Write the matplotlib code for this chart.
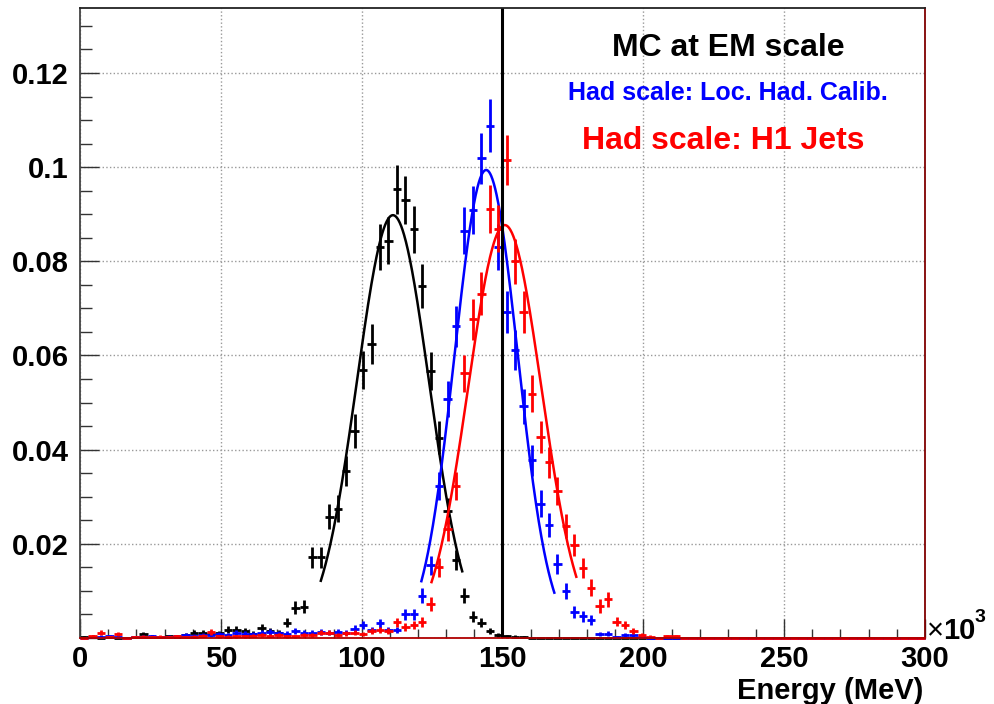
import numpy as np
import matplotlib
matplotlib.use("Agg")
import matplotlib.pyplot as plt
from matplotlib.ticker import MultipleLocator, FuncFormatter

# histogram: 100 bins of 3 (x10^3 MeV) from 0 to 300
bin_width = 3.0
n_bins = 100

# normalised contents for the first 72 bins, the remaining bins are empty
em_scale = [
    0.0002, 0.0003, 0.0000, 0.0002, 0.0000, 0.0000, 0.0002, 0.0008, 0.0003, 0.0002,
    0.0004, 0.0003, 0.0006, 0.0011, 0.0011, 0.0008, 0.0010, 0.0018, 0.0018, 0.0015,
    0.0009, 0.0022, 0.0015, 0.0011, 0.0032, 0.0064, 0.0066, 0.0171, 0.0171, 0.0258,
    0.0275, 0.0355, 0.0440, 0.0569, 0.0624, 0.0831, 0.0844, 0.0953, 0.0930, 0.0868,
    0.0748, 0.0567, 0.0425, 0.0269, 0.0166, 0.0090, 0.0045, 0.0032, 0.0015, 0.0007,
    0.0004, 0.0003, 0.0002, 0.0000, 0.0000, 0.0000, 0.0000, 0.0000, 0.0000, 0.0000,
    0.0000, 0.0000, 0.0000, 0.0000, 0.0000, 0.0000, 0.0000, 0.0000, 0.0000, 0.0000,
    0.0000, 0.0000,
]
loc_had = [
    0.0001, 0.0002, 0.0003, 0.0004, 0.0003, 0.0001, 0.0002, 0.0003, 0.0004, 0.0002,
    0.0003, 0.0004, 0.0007, 0.0005, 0.0007, 0.0006, 0.0008, 0.0006, 0.0011, 0.0009,
    0.0008, 0.0011, 0.0013, 0.0010, 0.0009, 0.0015, 0.0011, 0.0011, 0.0013, 0.0011,
    0.0013, 0.0011, 0.0020, 0.0028, 0.0017, 0.0031, 0.0017, 0.0017, 0.0050, 0.0050,
    0.0090, 0.0154, 0.0323, 0.0508, 0.0662, 0.0865, 0.0908, 0.1019, 0.1088, 0.0831,
    0.0692, 0.0612, 0.0492, 0.0377, 0.0285, 0.0240, 0.0158, 0.0099, 0.0055, 0.0046,
    0.0039, 0.0008, 0.0009, 0.0002, 0.0007, 0.0006, 0.0003, 0.0001, 0.0001, 0.0000,
    0.0000, 0.0000,
]
h1_jets = [
    0.0001, 0.0004, 0.0011, 0.0002, 0.0008, 0.0001, 0.0002, 0.0003, 0.0002, 0.0003,
    0.0002, 0.0004, 0.0002, 0.0003, 0.0005, 0.0013, 0.0004, 0.0003, 0.0004, 0.0004,
    0.0005, 0.0006, 0.0005, 0.0006, 0.0004, 0.0004, 0.0007, 0.0006, 0.0011, 0.0011,
    0.0006, 0.0010, 0.0011, 0.0008, 0.0015, 0.0017, 0.0014, 0.0033, 0.0023, 0.0027,
    0.0034, 0.0072, 0.0150, 0.0231, 0.0323, 0.0562, 0.0677, 0.0731, 0.0912, 0.0869,
    0.1015, 0.0800, 0.0692, 0.0519, 0.0427, 0.0373, 0.0312, 0.0238, 0.0197, 0.0149,
    0.0107, 0.0068, 0.0082, 0.0035, 0.0028, 0.0015, 0.0006, 0.0003, 0.0001, 0.0004,
    0.0004, 0.0001,
]
n_events = 3500  # sets the size of the poisson error bars

# gaussian fits: amplitude, mean, sigma, fit range
fit_em = (0.0898, 111.1, 12.8, 85.5, 135.7)
fit_loc = (0.0994, 144.2, 11.2, 121.2, 168.4)
fit_h1 = (0.0877, 150.8, 13.0, 124.8, 176.2)

true_energy = 150

W, H = 994, 704
fig = plt.figure(figsize=(W / 100, H / 100), dpi=100)
ax = fig.add_axes([80 / W, 1 - 638 / H, 845 / W, 630 / H])

centers = bin_width * (np.arange(n_bins) + 0.5)

series = [(em_scale, fit_em, "black"), (loc_had, fit_loc, "#0000ff"), (h1_jets, fit_h1, "#ff0000")]
for vals, fit, col in series:
    y = np.zeros(n_bins)
    y[:len(vals)] = vals
    err = np.sqrt(y / n_events)
    ax.errorbar(centers, y, xerr=bin_width / 2, yerr=err, fmt="none",
                ecolor=col, elinewidth=2.0, capsize=0, clip_on=False)
    a, mu, sig, lo, hi = fit
    xf = np.linspace(lo, hi, 300)
    ax.plot(xf, a * np.exp(-(xf - mu) ** 2 / (2 * sig ** 2)), color=col, lw=1.8)

ax.axvline(true_energy, color="black", lw=2.2)

ax.set_xlim(0, 300)
ax.set_ylim(0, 0.1338)

ax.xaxis.set_major_locator(MultipleLocator(50))
ax.xaxis.set_minor_locator(MultipleLocator(10))
ax.yaxis.set_major_locator(MultipleLocator(0.02))
ax.yaxis.set_minor_locator(MultipleLocator(0.005))
ax.yaxis.set_major_formatter(FuncFormatter(lambda v, p: "" if abs(v) < 1e-9 else "%g" % v))
ax.xaxis.set_major_formatter(FuncFormatter(lambda v, p: "%g" % v))

ax.tick_params(which="both", direction="in", top=False, right=False, color="#333333")
ax.tick_params(axis="x", which="major", length=14, width=1, pad=5)
ax.tick_params(axis="x", which="minor", length=6.5, width=1)
ax.tick_params(axis="y", which="major", length=14, width=1, pad=8)
ax.tick_params(axis="y", which="minor", length=8.5, width=1)

for lab in ax.get_xticklabels():
    lab.set_fontfamily("Liberation Sans")
    lab.set_fontweight("bold")
    lab.set_fontsize(21)
for lab in ax.get_yticklabels():
    lab.set_fontfamily("Liberation Sans")
    lab.set_fontweight("bold")
    lab.set_fontsize(21)

ax.grid(True, which="major", linestyle=":", color="#999999", lw=1)
ax.set_axisbelow(True)

ax.spines["left"].set_color("#444444")
ax.spines["top"].set_color("#222222")
ax.spines["right"].set_color("#800000")
ax.spines["bottom"].set_color("#b00000")
for s in ax.spines.values():
    s.set_linewidth(1.3)

font = dict(family="Liberation Sans", weight="bold")
fig.text(728 / W, 1 - 48 / H, "MC at EM scale", ha="center", va="center", fontsize=23, color="black", **font)
fig.text(728 / W, 1 - 93 / H, "Had scale: Loc. Had. Calib.", ha="center", va="center", fontsize=18, color="#0000ff", **font)
fig.text(723 / W, 1 - 141 / H, "Had scale: H1 Jets", ha="center", va="center", fontsize=23, color="#ff0000", **font)

fig.text(923 / W, 1 - 691 / H, "Energy (MeV)", ha="right", va="center", fontsize=21, **font)
fig.text(927 / W, 1 - 631 / H, "\u00d7", ha="left", va="center", fontsize=21, family="Liberation Sans")
fig.text(943 / W, 1 - 631 / H, "10", ha="left", va="center", fontsize=21, **font)
fig.text(975 / W, 1 - 617 / H, "3", ha="left", va="center", fontsize=14, **font)

fig.savefig("out.png", dpi=100)
